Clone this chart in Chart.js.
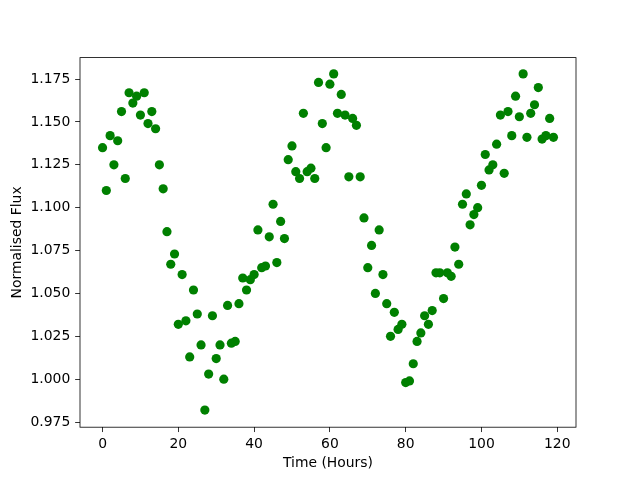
<!DOCTYPE html>
<html>
<head>
<meta charset="utf-8">
<script src="https://cdn.jsdelivr.net/npm/chart.js@4.4.0/dist/chart.umd.min.js"></script>
<style>
  body { margin: 0; background: #fff; }
  #wrap { width: 640px; height: 480px; }
</style>
</head>
<body>
<div id="wrap"><canvas id="fluxChart" width="640" height="480"></canvas></div>
<script>
// time axis, one reading per hour
const hours = [
  0, 1, 2, 3, 4, 5, 6, 7, 8, 9, 10, 11, 12, 13, 14, 15, 16, 17, 18, 19,
  20, 21, 22, 23, 24, 25, 26, 27, 28, 29, 30, 31, 32, 33, 34, 35, 36, 37, 38, 39,
  40, 41, 42, 43, 44, 45, 46, 47, 48, 49, 50, 51, 52, 53, 54, 55, 56, 57, 58, 59,
  60, 61, 62, 63, 64, 65, 66, 67, 68, 69, 70, 71, 72, 73, 74, 75, 76, 77, 78, 79,
  80, 81, 82, 83, 84, 85, 86, 87, 88, 89, 90, 91, 92, 93, 94, 95, 96, 97, 98, 99,
  100, 101, 102, 103, 104, 105, 106, 107, 108, 109, 110, 111, 112, 113, 114, 115, 116, 117, 118, 119
];

const flux = [
  1.135, 1.110, 1.142, 1.125, 1.139, 1.156, 1.117, 1.167, 1.161, 1.165,
  1.154, 1.167, 1.149, 1.156, 1.146, 1.125, 1.111, 1.086, 1.067, 1.073,
  1.032, 1.061, 1.034, 1.013, 1.052, 1.038, 1.020, 0.982, 1.003, 1.037,
  1.012, 1.020, 1.000, 1.043, 1.021, 1.022, 1.044, 1.059, 1.052, 1.058,
  1.061, 1.087, 1.065, 1.066, 1.083, 1.102, 1.068, 1.092, 1.082, 1.128,
  1.136, 1.121, 1.117, 1.155, 1.121, 1.123, 1.117, 1.173, 1.149, 1.135,
  1.172, 1.178, 1.155, 1.166, 1.154, 1.118, 1.152, 1.148, 1.118, 1.094,
  1.065, 1.078, 1.050, 1.087, 1.061, 1.044, 1.025, 1.039, 1.029, 1.032,
  0.998, 0.999, 1.009, 1.022, 1.027, 1.037, 1.032, 1.040, 1.062, 1.062,
  1.047, 1.062, 1.060, 1.077, 1.067, 1.102, 1.108, 1.090, 1.096, 1.100,
  1.113, 1.131, 1.122, 1.125, 1.137, 1.154, 1.120, 1.156, 1.142, 1.165,
  1.153, 1.178, 1.141, 1.155, 1.160, 1.170, 1.140, 1.142, 1.152, 1.141
];

const xTicks = [0, 20, 40, 60, 80, 100, 120];
const yTicks = [0.975, 1.000, 1.025, 1.050, 1.075, 1.100, 1.125, 1.150, 1.175];

const points = hours.map((h, i) => ({ x: h, y: flux[i] }));

// box round the plot area, like matplotlib spines
const frame = {
  id: "frame",
  afterDraw(chart) {
    const a = chart.chartArea;
    const c = chart.ctx;
    c.save();
    c.strokeStyle = "#000";
    c.lineWidth = 0.8;
    c.strokeRect(a.left, a.top, a.right - a.left, a.bottom - a.top);
    c.restore();
  }
};

Chart.defaults.font.family = "'DejaVu Sans', sans-serif";
Chart.defaults.font.size = 13.9;
Chart.defaults.color = "#000";

new Chart(document.getElementById("fluxChart").getContext("2d"), {
  type: "scatter",
  data: {
    datasets: [
      {
        data: points,
        backgroundColor: "#008000",
        borderColor: "#008000",
        borderWidth: 0,
        pointRadius: 4.6,
        pointHoverRadius: 4.6,
      },
    ],
  },
  options: {
    responsive: false,
    animation: false,
    layout: { padding: { top: 57.6, right: 64, left: 9, bottom: 0 } },
    plugins: { legend: { display: false }, tooltip: { enabled: false } },
    scales: {
      x: {
        type: "linear",
        min: -5.95,
        max: 124.95,
        afterFit(s) { s.height = 52.8; },
        afterBuildTicks(s) { s.ticks = xTicks.map(v => ({ value: v })); },
        ticks: { padding: 3.5, maxRotation: 0, callback: v => String(v) },
        grid: { drawOnChartArea: false, drawTicks: true, tickLength: 4.86, tickColor: "#000", tickWidth: 0.8 },
        border: { display: false },
        title: { display: true, text: "Time (Hours)", padding: { top: 0, bottom: 8 } },
      },
      y: {
        min: 0.97201,
        max: 1.18749,
        afterFit(s) { s.width = 71; },
        afterBuildTicks(s) { s.ticks = yTicks.map(v => ({ value: v })); },
        ticks: { padding: 4.86, callback: v => v.toFixed(3) },
        grid: { drawOnChartArea: false, drawTicks: true, tickLength: 4.86, tickColor: "#000", tickWidth: 0.8 },
        border: { display: false },
        title: { display: true, text: "Normalised Flux", padding: { top: 0, bottom: 8 } },
      },
    },
  },
  plugins: [frame],
});
</script>
</body>
</html>
